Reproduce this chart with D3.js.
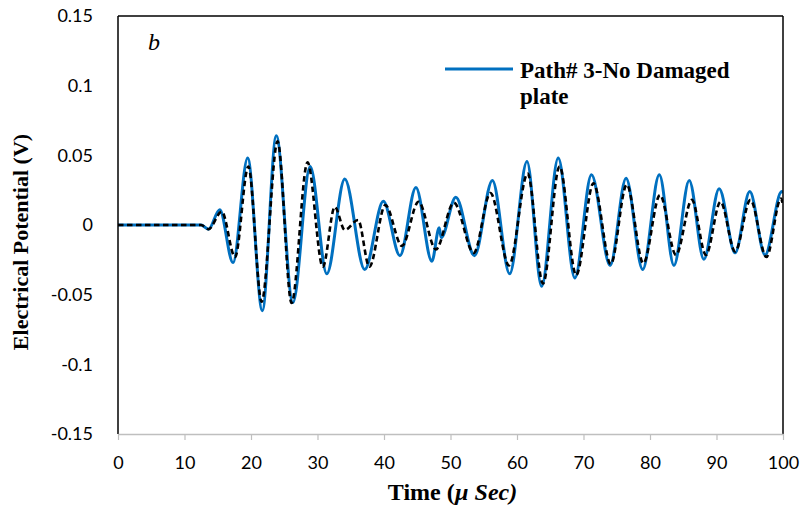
<!DOCTYPE html>
<html>
<head>
<meta charset="utf-8">
<script src="https://cdn.jsdelivr.net/npm/d3@7"></script>
<style>
  html, body { margin: 0; padding: 0; background: #fff; }
  svg { display: block; }
</style>
</head>
<body>
<svg id="chart" width="803" height="508"></svg>
<script>
// ---- Data ----
const xTicks = [0, 10, 20, 30, 40, 50, 60, 70, 80, 90, 100];
const yTicks = [-0.15, -0.1, -0.05, 0, 0.05, 0.1, 0.15];
const yTickLabels = ["-0.15", "-0.1", "-0.05", "0", "0.05", "0.1", "0.15"];

// Path# 3 - No Damaged plate (blue, solid)
const blueTime  = [0, 12.5, 13.6, 15.3, 17.3, 19.5, 21.7, 23.8, 26.3, 28.9, 31.4, 34.1, 37.1, 39.9, 42.4, 44.8, 47.2, 48.3, 48.6, 50.8, 53.6, 56.3, 58.9, 61.5, 63.7, 66.2, 68.7, 71.2, 74.0, 76.4, 78.9, 81.4, 83.6, 85.9, 88.1, 90.4, 92.8, 95.0, 97.3, 99.8, 100];
const blueValue = [0, 0, -0.003, 0.011, -0.027, 0.048, -0.0615, 0.064, -0.0557, 0.042, -0.035, 0.033, -0.032, 0.017, -0.022, 0.027, -0.026, -0.002, -0.009, 0.020, -0.022, 0.032, -0.035, 0.0455, -0.044, 0.048, -0.038, 0.036, -0.029, 0.0335, -0.032, 0.036, -0.029, 0.032, -0.0246, 0.026, -0.020, 0.024, -0.0215, 0.024, 0.023];

// Second signal (black, dashed)
const blackTime  = [0, 12.5, 13.6, 15.6, 17.6, 19.6, 21.6, 24.0, 26.1, 28.5, 30.8, 32.6, 34.1, 36.1, 37.8, 40.2, 42.7, 45.2, 47.8, 50.5, 53.5, 56.0, 58.8, 61.6, 63.9, 66.4, 68.9, 71.5, 74.1, 76.5, 79.0, 81.5, 83.9, 86.3, 88.4, 90.6, 92.8, 95.1, 97.5, 99.7, 100];
const blackValue = [0, 0, -0.003, 0.0096, -0.023, 0.042, -0.055, 0.060, -0.056, 0.045, -0.030, 0.013, -0.0036, 0.0036, -0.030, 0.0143, -0.015, 0.0167, -0.0175, 0.016, -0.020, 0.023, -0.029, 0.037, -0.042, 0.042, -0.036, 0.030, -0.028, 0.029, -0.0275, 0.0215, -0.0215, 0.018, -0.0215, 0.0167, -0.019, 0.018, -0.023, 0.019, 0.014];

const legendLines = ["Path# 3-No Damaged", "plate"];

// ---- Layout ----
const svg = d3.select("#chart");
const margin = { left: 118, right: 20, top: 16, bottom: 74 };
const W = 803, H = 508;
const x = d3.scaleLinear().domain([0, 100]).range([margin.left, W - margin.right]);
const y = d3.scaleLinear().domain([-0.15, 0.15]).range([H - margin.bottom, margin.top]);

const tickFont = "Lato, 'Open Sans', sans-serif";
const serif = "'Liberation Serif', 'Times New Roman', serif";

// clip
svg.append("defs").append("clipPath").attr("id", "plotClip")
  .append("rect")
  .attr("x", x(0)).attr("y", y(0.15))
  .attr("width", x(100) - x(0)).attr("height", y(-0.15) - y(0.15));

// Series
const toPts = (ts, vs) => ts.map((t, i) => [t, vs[i]]);
const line = d3.line().x(d => x(d[0])).y(d => y(d[1])).curve(d3.curveMonotoneX);

const g = svg.append("g").attr("clip-path", "url(#plotClip)");
g.append("path")
  .datum(toPts(blueTime, blueValue))
  .attr("d", line)
  .attr("fill", "none")
  .attr("stroke", "#0070C0")
  .attr("stroke-width", 3)
  .attr("stroke-linejoin", "round");
g.append("path")
  .datum(toPts(blackTime, blackValue))
  .attr("d", line)
  .attr("fill", "none")
  .attr("stroke", "#000")
  .attr("stroke-width", 2.6)
  .attr("stroke-dasharray", "5.5,3.5");

// Frame (top, right, left black)
svg.append("line").attr("x1", x(0)).attr("x2", x(100)).attr("y1", y(0.15)).attr("y2", y(0.15))
  .attr("stroke", "#000").attr("stroke-width", 1.5);
svg.append("line").attr("x1", x(100)).attr("x2", x(100)).attr("y1", y(0.15)).attr("y2", y(-0.15))
  .attr("stroke", "#000").attr("stroke-width", 1.5);
svg.append("line").attr("x1", x(0)).attr("x2", x(0)).attr("y1", y(0.15)).attr("y2", y(-0.15))
  .attr("stroke", "#000").attr("stroke-width", 1.5);

// X axis (gray line with ticks)
const xAxis = d3.axisBottom(x).tickValues(xTicks).tickSize(6).tickSizeOuter(0).tickFormat(d3.format("d"));
const xg = svg.append("g").attr("transform", `translate(0,${y(-0.15)})`).call(xAxis);
xg.select(".domain").attr("stroke", "#bfbfbf").attr("stroke-width", 1.5);
xg.selectAll(".tick line").attr("stroke", "#bfbfbf").attr("stroke-width", 1.2);
xg.selectAll(".tick text")
  .attr("y", 22).attr("dy", "0.71em")
  .style("font-family", tickFont).style("font-size", "18px").attr("fill", "#000");

// Y axis labels (no tick marks)
const yAxis = d3.axisLeft(y).tickValues(yTicks).tickSize(0)
  .tickFormat((d, i) => yTickLabels[i]);
const yg = svg.append("g").attr("transform", `translate(${x(0)},0)`).call(yAxis);
yg.select(".domain").remove();
yg.selectAll(".tick text")
  .attr("x", -25)
  .style("font-family", tickFont).style("font-size", "18px").attr("fill", "#000");

// Axis titles
const xt = svg.append("text")
  .attr("x", (x(0) + x(100)) / 2 + 2).attr("y", 500)
  .attr("text-anchor", "middle")
  .style("font-family", serif).style("font-size", "24px").style("font-weight", "bold");
xt.append("tspan").text("Time (");
xt.append("tspan").style("font-style", "italic").text("\u00B5 Sec)");

svg.append("text")
  .attr("transform", `translate(28,${y(0) + 17}) rotate(-90)`)
  .attr("text-anchor", "middle")
  .style("font-family", serif).style("font-size", "22px").style("font-weight", "bold")
  .text("Electrical Potential (V)");

// Panel letter
svg.append("text")
  .attr("x", 148).attr("y", 50)
  .style("font-family", serif).style("font-size", "24px").style("font-style", "italic")
  .text("b");

// Legend
svg.append("line").attr("x1", 445).attr("x2", 513).attr("y1", 69).attr("y2", 69)
  .attr("stroke", "#0070C0").attr("stroke-width", 3);
svg.append("text")
  .attr("x", 520).attr("y", 78)
  .style("font-family", serif).style("font-size", "23px").style("font-weight", "bold")
  .selectAll("tspan").data(legendLines).join("tspan")
  .attr("x", 520).attr("dy", (d, i) => i === 0 ? 0 : 26)
  .text(d => d);
</script>
</body>
</html>
